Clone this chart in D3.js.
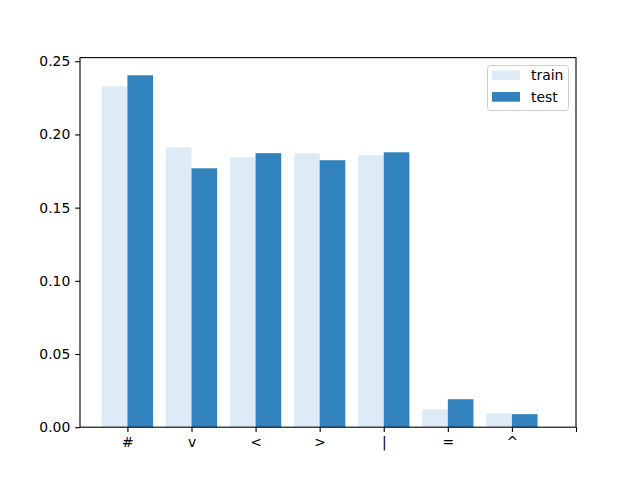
<!DOCTYPE html>
<html>
<head>
<meta charset="utf-8">
<script src="https://cdn.jsdelivr.net/npm/d3@7"></script>
<style>
  body { margin: 0; background: #fff; }
  svg text { font-family: "DejaVu Sans", sans-serif; }
</style>
</head>
<body>
<svg id="chart" width="640" height="480"></svg>
<script>
// data
var categories = ["#", "v", "<", ">", "|", "=", "^"];
var trainValues = [0.2329, 0.1913, 0.1844, 0.1872, 0.1858, 0.0123, 0.0096];
var testValues = [0.2404, 0.1769, 0.1872, 0.1824, 0.1878, 0.0191, 0.0089];
var yTicks = [0, 0.05, 0.10, 0.15, 0.20, 0.25];
var seriesNames = ["train", "test"];
var seriesColors = ["#deebf7", "#3182bd"];

var svg = d3.select("#chart");
// plot area (window.top is reserved, so use other names)
var plotLeft = 80, plotRight = 576, plotTop = 57.6, plotBottom = 427.2;
var fontSize = 13.9;

var x = d3.scaleLinear().domain([-0.74, 7]).range([plotLeft, plotRight]);
var y = d3.scaleLinear().domain([0, 0.2525]).range([plotBottom, plotTop]);
var barW = 0.4;

//bars
var series = [trainValues, testValues];
series.forEach(function (vals, s) {
    svg.append("g").selectAll("rect")
        .data(vals)
        .enter().append("rect")
        .attr("x", function (d, i) { return x(i - barW + s * barW); })
        .attr("width", function () { return x(barW) - x(0); })
        .attr("y", function (d) { return y(d); })
        .attr("height", function (d) { return y(0) - y(d); })
        .attr("fill", seriesColors[s]);
});

//axes
var xTickPos = d3.range(categories.length + 1);
var xAxis = d3.axisBottom(x)
    .tickValues(xTickPos)
    .tickFormat(function (d) { return categories[d] || ""; })
    .tickSize(4.86).tickPadding(4.86);
var gx = svg.append("g").attr("transform", "translate(0," + plotBottom + ")").call(xAxis);

var yAxis = d3.axisLeft(y)
    .tickValues(yTicks)
    .tickFormat(d3.format(".2f"))
    .tickSize(4.86).tickPadding(4.86);
var gy = svg.append("g").attr("transform", "translate(" + plotLeft + ",0)").call(yAxis);

[gx, gy].forEach(function (g) {
    g.select(".domain").remove();
    g.selectAll(".tick line").attr("stroke", "#000").attr("stroke-width", 1.1);
    g.selectAll(".tick text").attr("fill", "#000").style("font-size", fontSize + "px");
});

//spines
svg.append("rect")
    .attr("x", plotLeft).attr("y", plotTop)
    .attr("width", plotRight - plotLeft).attr("height", plotBottom - plotTop)
    .attr("fill", "none").attr("stroke", "#000").attr("stroke-width", 1.1);

//legend
var legend = svg.append("g").attr("transform", "translate(487.5,65.5)");
legend.append("rect")
    .attr("width", 81).attr("height", 45).attr("rx", 3)
    .attr("fill", "#fff").attr("fill-opacity", 0.8)
    .attr("stroke", "#cccccc").attr("stroke-width", 1);
seriesNames.forEach(function (name, i) {
    legend.append("rect")
        .attr("x", 4.5).attr("y", 5 + i * 21.5)
        .attr("width", 28).attr("height", 9.7)
        .attr("fill", seriesColors[i]);
    legend.append("text")
        .attr("x", 43.5).attr("y", 14.5 + i * 21.5)
        .style("font-size", fontSize + "px")
        .text(name);
});
</script>
</body>
</html>
